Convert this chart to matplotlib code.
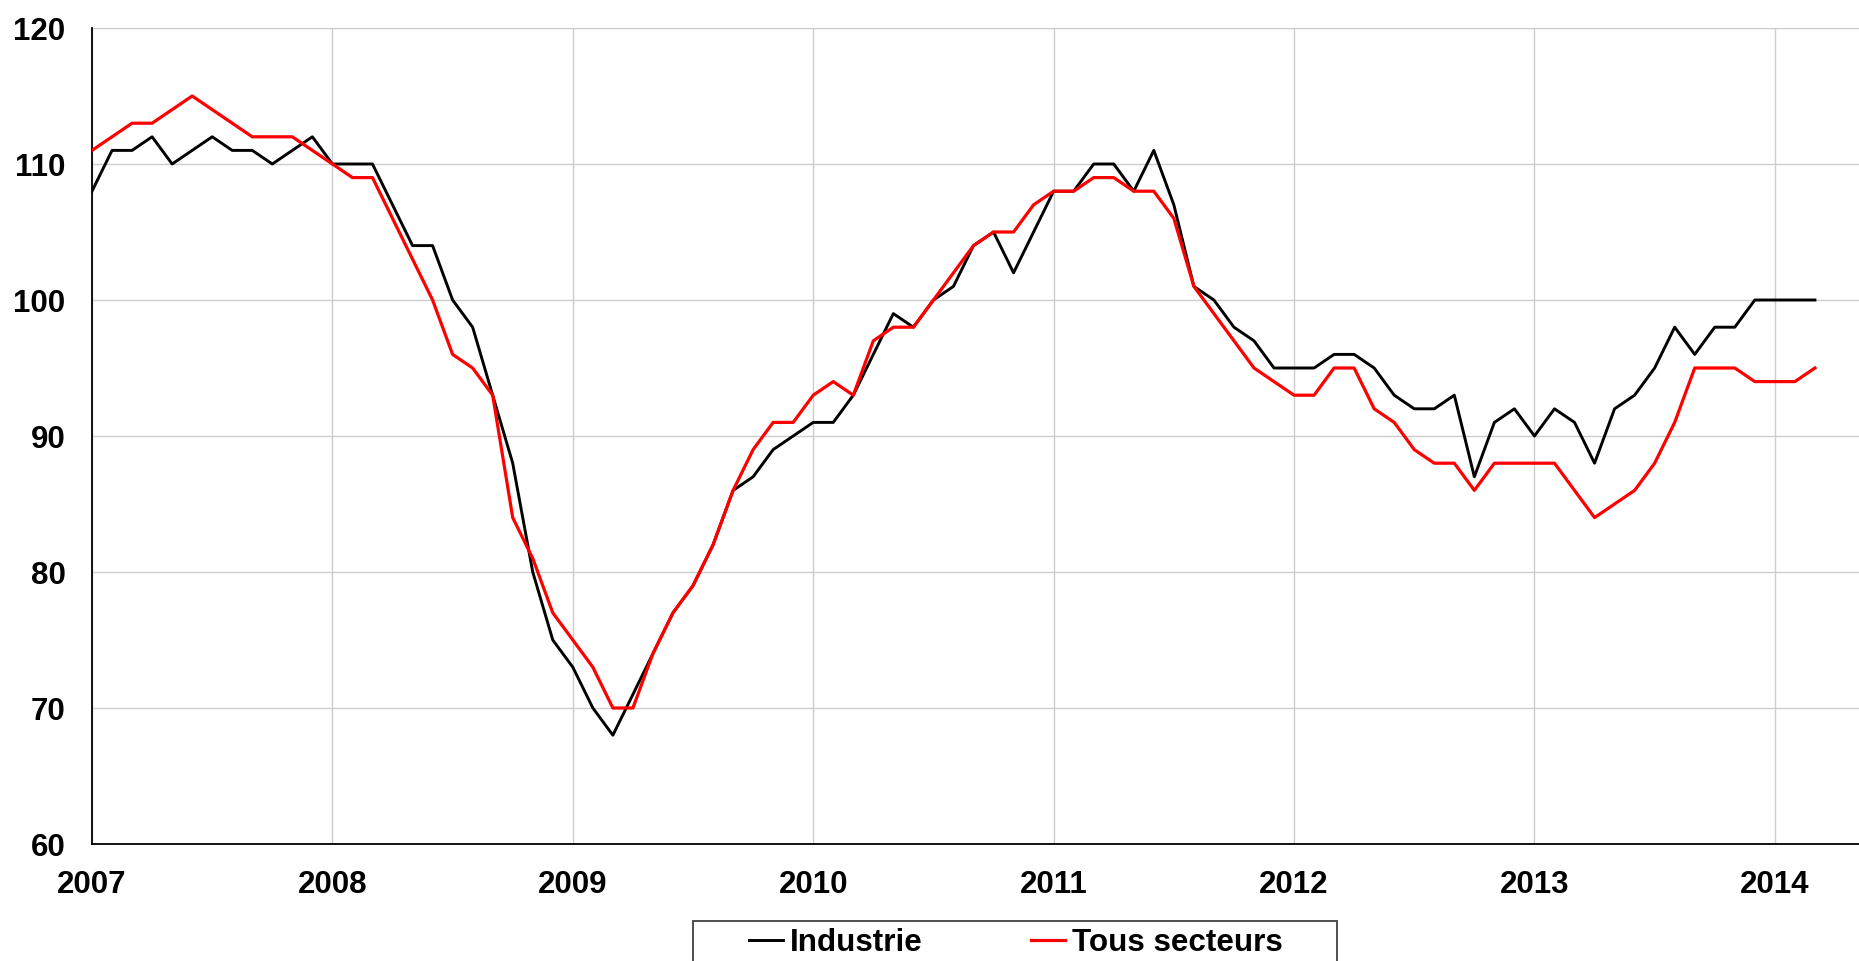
import numpy as np
import matplotlib
matplotlib.use("Agg")
import matplotlib.pyplot as plt
from matplotlib.patches import Rectangle

# monthly index values, Jan 2007 - Mar 2014
industrie = [108, 111, 111, 112, 110, 111, 112, 111, 111, 110, 111, 112,
             110, 110, 110, 107, 104, 104, 100, 98, 93, 88, 80, 75,
             73, 70, 68, 71, 74, 77, 79, 82, 86, 87, 89, 90,
             91, 91, 93, 96, 99, 98, 100, 101, 104, 105, 102, 105,
             108, 108, 110, 110, 108, 111, 107, 101, 100, 98, 97, 95,
             95, 95, 96, 96, 95, 93, 92, 92, 93, 87, 91, 92,
             90, 92, 91, 88, 92, 93, 95, 98, 96, 98, 98, 100,
             100, 100, 100]
tous_secteurs = [111, 112, 113, 113, 114, 115, 114, 113, 112, 112, 112, 111,
                 110, 109, 109, 106, 103, 100, 96, 95, 93, 84, 81, 77,
                 75, 73, 70, 70, 74, 77, 79, 82, 86, 89, 91, 91,
                 93, 94, 93, 97, 98, 98, 100, 102, 104, 105, 105, 107,
                 108, 108, 109, 109, 108, 108, 106, 101, 99, 97, 95, 94,
                 93, 93, 95, 95, 92, 91, 89, 88, 88, 86, 88, 88,
                 88, 88, 86, 84, 85, 86, 88, 91, 95, 95, 95, 94,
                 94, 94, 95]
years = list(range(2007, 2015))
yticks = [60, 70, 80, 90, 100, 110, 120]

x = 2007 + np.arange(len(industrie)) / 12.0

plt.rcParams['font.family'] = ['Liberation Sans', 'DejaVu Sans']
plt.rcParams['font.weight'] = 'bold'

fig = plt.figure(figsize=(18.59, 9.61), dpi=100)
# axes box in pixels: left 92, bottom edge at y=844, top at y=28
ax = fig.add_axes([92 / 1859, 1 - 844 / 961, 1 - 92 / 1859, (844 - 28) / 961])

ax.plot(x, industrie, color='black', lw=2.1, label='Industrie', zorder=3)
ax.plot(x, tous_secteurs, color='#ff0000', lw=2.3, label='Tous secteurs', zorder=3)

ax.set_xlim(2007, 2014.35)
ax.set_ylim(60, 120)
ax.set_xticks(years)
ax.set_xticklabels([str(y) for y in years])
ax.set_yticks(yticks)
ax.grid(True, color='#cccccc', lw=1.0, zorder=0)
ax.tick_params(axis='both', length=0, labelsize=22.5)
ax.tick_params(axis='x', pad=19)
ax.tick_params(axis='y', pad=19)
for lab in ax.get_xticklabels() + ax.get_yticklabels():
    lab.set_fontweight('bold')

ax.spines['top'].set_visible(False)
ax.spines['right'].set_visible(False)
ax.spines['left'].set_linewidth(1.3)
ax.spines['bottom'].set_linewidth(1.3)

# legend box (wider than the entries, cut off by the bottom edge)
box = Rectangle((693 / 1859, -0.01), (1337 - 693) / 1859, 0.01 + 40 / 961,
                transform=fig.transFigure, fill=False,
                edgecolor='#404040', lw=1.3)
fig.add_artist(box)
fig.legend(loc='center', bbox_to_anchor=(0.5465, 0.0187), ncol=2,
           frameon=False, prop={'size': 22.6, 'weight': 'bold'},
           handlelength=1.08, handletextpad=0.22, columnspacing=3.45,
           borderpad=0, borderaxespad=0)

fig.savefig('out.png', dpi=100)
